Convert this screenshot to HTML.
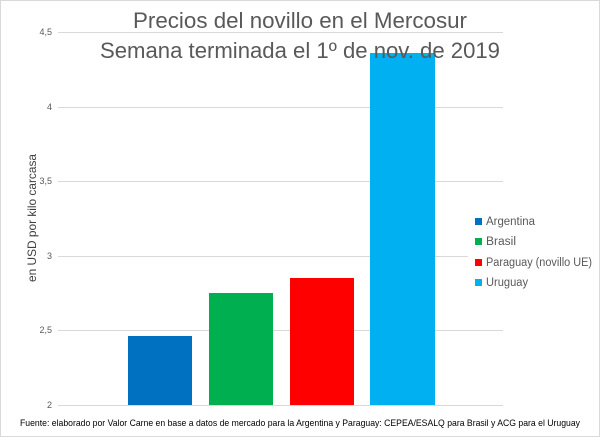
<!DOCTYPE html>
<html><head><style>
body{margin:0;background:#fff}
svg{display:block;font-family:"Liberation Sans",sans-serif}
</style></head><body>
<svg width="600" height="437" viewBox="0 0 600 437">
<rect x="0.5" y="0.5" width="599" height="436" fill="#fff" stroke="#d9d9d9"/>
<g stroke="#d9d9d9" stroke-width="1">
<line x1="58" x2="503" y1="32.5" y2="32.5"/>
<line x1="58" x2="503" y1="107.5" y2="107.5"/>
<line x1="58" x2="503" y1="181.5" y2="181.5"/>
<line x1="58" x2="503" y1="256.5" y2="256.5"/>
<line x1="58" x2="503" y1="330.5" y2="330.5"/>
<line x1="58" x2="503" y1="405.5" y2="405.5"/>
</g>
<g font-size="9" fill="#595959" text-anchor="end">
<text x="52" y="35">4,5</text>
<text x="52" y="110">4</text>
<text x="52" y="184">3,5</text>
<text x="52" y="259">3</text>
<text x="52" y="333">2,5</text>
<text x="52" y="408">2</text>
</g>
<text transform="translate(36,218) rotate(-90)" font-size="12" fill="#404040" text-anchor="middle" textLength="128" lengthAdjust="spacingAndGlyphs">en USD por kilo carcasa</text>
<rect x="128" y="336" width="64" height="69" fill="#0070c0"/>
<rect x="209" y="293" width="64" height="112" fill="#00b050"/>
<rect x="290" y="278" width="64" height="127" fill="#ff0000"/>
<rect x="370" y="53" width="65" height="352" fill="#00b0f0"/>
<g font-size="22" fill="#595959">
<text x="133" y="28" textLength="334" lengthAdjust="spacingAndGlyphs">Precios del novillo en el Mercosur</text>
<text x="100" y="58" textLength="400" lengthAdjust="spacingAndGlyphs">Semana terminada el 1º de nov. de 2019</text>
</g>
<rect x="468" y="210" width="130" height="80" fill="#fff"/>
<g font-size="11.5" fill="#595959">
<rect x="475" y="218" width="7" height="7" fill="#0070c0"/><text x="486" y="225" textLength="49" lengthAdjust="spacingAndGlyphs">Argentina</text>
<rect x="475" y="238" width="7" height="7" fill="#00b050"/><text x="486" y="245" textLength="30" lengthAdjust="spacingAndGlyphs">Brasil</text>
<rect x="475" y="259" width="7" height="7" fill="#ff0000"/><text x="486" y="266" textLength="106" lengthAdjust="spacingAndGlyphs">Paraguay (novillo UE)</text>
<rect x="475" y="279" width="7" height="7" fill="#00b0f0"/><text x="486" y="286" textLength="42" lengthAdjust="spacingAndGlyphs">Uruguay</text>
</g>
<text x="20" y="426" font-size="9.5" fill="#000" textLength="560" lengthAdjust="spacingAndGlyphs">Fuente: elaborado por Valor Carne en base a datos de mercado para la Argentina y Paraguay: CEPEA/ESALQ para Brasil y ACG para el Uruguay</text>
</svg>
</body></html>
